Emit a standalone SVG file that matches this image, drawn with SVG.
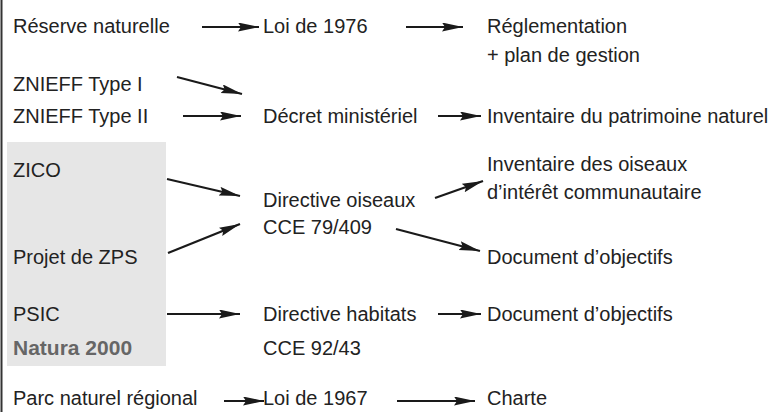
<svg xmlns="http://www.w3.org/2000/svg" width="784" height="412" viewBox="0 0 784 412">
<defs>
<marker id="ah" markerUnits="userSpaceOnUse" markerWidth="22" markerHeight="10" refX="21" refY="4.5" orient="auto">
<path d="M0,0 L21,4.5 L0,9 L3,4.5 z" fill="#1a1a1a"/>
</marker>
<style>
text{font-family:"Liberation Sans",Arial,sans-serif;font-size:20px;fill:#222}
.n2k{font-weight:bold;font-size:21px;fill:#666}
.c line{stroke:#1a1a1a;stroke-width:2.2;marker-end:url(#ah)}
</style>
</defs>
<rect width="784" height="412" fill="#fff"/>
<line x1="1.5" y1="0" x2="1.5" y2="412" stroke="#333" stroke-width="2"/>
<rect id="natura-box" x="7" y="142" width="159" height="224" fill="#e6e6e6"/>
<g id="reserve"><text x="13" y="33">Réserve naturelle</text></g>
<g id="loi1976"><text x="263" y="33">Loi de 1976</text></g>
<g id="reglementation"><text x="487" y="33">Réglementation</text><text x="487" y="62">+ plan de gestion</text></g>
<g id="znieff1"><text x="13" y="91">ZNIEFF Type I</text></g>
<g id="znieff2"><text x="13" y="123">ZNIEFF Type II</text></g>
<g id="decret"><text x="263" y="123">Décret ministériel</text></g>
<g id="inventaire-patrimoine"><text x="487" y="123">Inventaire du patrimoine naturel</text></g>
<g id="zico"><text x="13" y="177">ZICO</text></g>
<g id="projet-zps"><text x="13" y="264">Projet de ZPS</text></g>
<g id="directive-oiseaux"><text x="263" y="207">Directive oiseaux</text><text x="263" y="234">CCE 79/409</text></g>
<g id="inventaire-oiseaux"><text x="487" y="171">Inventaire des oiseaux</text><text x="487" y="199">d’intérêt communautaire</text></g>
<g id="document1"><text x="487" y="264">Document d’objectifs</text></g>
<g id="psic"><text x="13" y="321">PSIC</text><text class="n2k" x="13" y="355">Natura 2000</text></g>
<g id="directive-habitats"><text x="263" y="321">Directive habitats</text><text x="263" y="355">CCE 92/43</text></g>
<g id="document2"><text x="487" y="321">Document d’objectifs</text></g>
<g id="parc"><text x="13" y="405">Parc naturel régional</text></g>
<g id="loi1967"><text x="263" y="405">Loi de 1967</text></g>
<g id="charte"><text x="487" y="405">Charte</text></g>
<g id="connectors" class="c">
<line x1="202" y1="27" x2="259" y2="27"/>
<line x1="406" y1="27" x2="463" y2="27"/>
<line x1="177" y1="77" x2="242" y2="94"/>
<line x1="183" y1="116" x2="241" y2="116"/>
<line x1="438" y1="116" x2="481" y2="116"/>
<line x1="167" y1="179" x2="240" y2="196"/>
<line x1="168" y1="253" x2="240" y2="224"/>
<line x1="435" y1="198" x2="483" y2="181"/>
<line x1="396" y1="229" x2="480" y2="251"/>
<line x1="167" y1="314" x2="240" y2="314"/>
<line x1="438" y1="314" x2="481" y2="314"/>
<line x1="224" y1="401" x2="264" y2="401"/>
<line x1="397" y1="401" x2="475" y2="401"/>
</g>
</svg>
